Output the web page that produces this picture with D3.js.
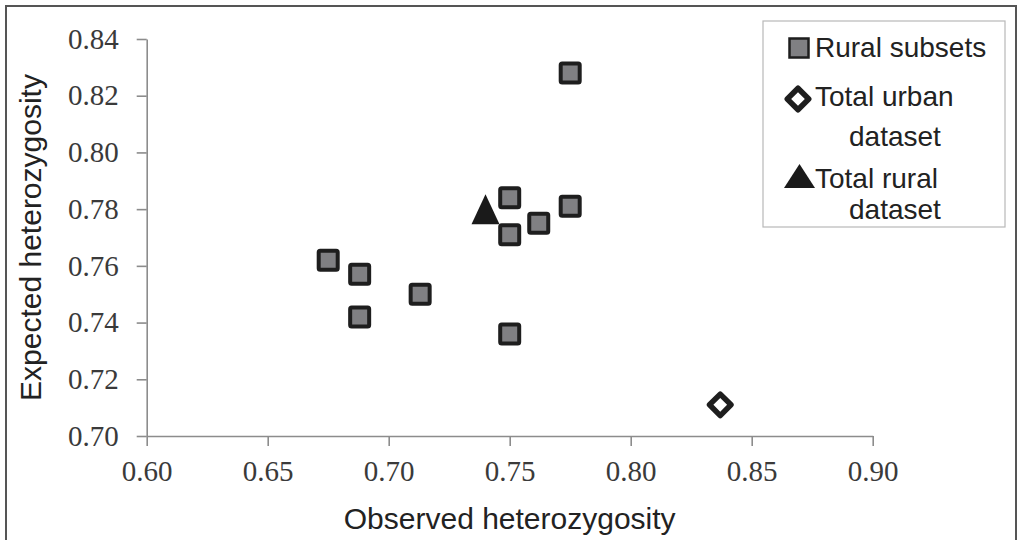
<!DOCTYPE html>
<html>
<head>
<meta charset="utf-8">
<script src="https://cdn.jsdelivr.net/npm/d3@7"></script>
<style>
  body { margin: 0; background: #fff; }
  .axis path, .axis line { stroke: #8c8c8c; stroke-width: 1.6; }
  .axis text { font-family: "Liberation Serif", "Times New Roman", serif; font-size: 29px; fill: #3a3a3a; }
  .title { font-family: "Liberation Sans", Arial, sans-serif; font-size: 30px; fill: #222; }
  .leg { font-family: "Liberation Sans", Arial, sans-serif; font-size: 28px; fill: #222; }
</style>
</head>
<body>
<script>
var ruralObs = [0.775, 0.675, 0.688, 0.713, 0.688, 0.750, 0.750, 0.762, 0.775, 0.750];
var ruralExp = [0.828, 0.762, 0.757, 0.750, 0.742, 0.784, 0.771, 0.775, 0.781, 0.736];
var urbanTotal = {obs: 0.837, exp: 0.711};
var ruralTotal = {obs: 0.740, exp: 0.780};
var xTicks = [0.60, 0.65, 0.70, 0.75, 0.80, 0.85, 0.90];
var yTicks = [0.70, 0.72, 0.74, 0.76, 0.78, 0.80, 0.82, 0.84];
var legendLabels = [["Rural subsets"], ["Total urban", "dataset"], ["Total rural", "dataset"]];

var w = 1019;
var h = 540;

var svg = d3.select("body").append("svg")
    .attr("width", w)
    .attr("height", h);

// outer frame
svg.append("rect")
    .attr("x", 6).attr("y", 6)
    .attr("width", 1010).attr("height", 560)
    .attr("fill", "none")
    .attr("stroke", "#555")
    .attr("stroke-width", 2);

var x = d3.scaleLinear()
    .domain([0.60, 0.90])
    .range([146.7, 872.7]);

var y = d3.scaleLinear()
    .domain([0.70, 0.84])
    .range([436, 39]);

var xAxis = d3.axisBottom(x).tickValues(xTicks).tickFormat(d3.format(".2f"))
    .tickSize(10).tickSizeOuter(0).tickPadding(14);
var yAxis = d3.axisLeft(y).tickValues(yTicks).tickFormat(d3.format(".2f"))
    .tickSize(10).tickSizeOuter(0).tickPadding(18);

svg.append("g")
    .attr("class", "axis")
    .attr("transform", "translate(0," + y(0.70) + ")")
    .call(xAxis);

svg.append("g")
    .attr("class", "axis")
    .attr("transform", "translate(" + x(0.60) + ",0)")
    .call(yAxis);

svg.append("text")
    .attr("class", "title")
    .attr("x", (x(0.60) + x(0.90)) / 2)
    .attr("y", 529)
    .attr("text-anchor", "middle")
    .text("Observed heterozygosity");

svg.append("text")
    .attr("class", "title")
    .attr("transform", "translate(41," + (y(0.70) + y(0.84)) / 2 + ") rotate(-90)")
    .attr("text-anchor", "middle")
    .text("Expected heterozygosity");

var squareOn = "#1e1e1e";
var squareFill = "#808083";

svg.selectAll(".rural")
    .data(ruralObs)
    .enter()
    .append("rect")
    .attr("class", "rural")
    .attr("x", function(d) { return x(d) - 9.5; })
    .attr("y", function(d, i) { return y(ruralExp[i]) - 9.5; })
    .attr("width", 19)
    .attr("height", 19)
    .attr("rx", 1.5)
    .attr("fill", squareFill)
    .attr("stroke", squareOn)
    .attr("stroke-width", 4);

var diamond = d3.symbol().type(d3.symbolSquare).size(230);

svg.append("path")
    .attr("d", diamond)
    .attr("transform", "translate(" + x(urbanTotal.obs) + "," + y(urbanTotal.exp) + ") rotate(45)")
    .attr("fill", "#fff")
    .attr("stroke", squareOn)
    .attr("stroke-width", 5.5)
    .attr("stroke-linejoin", "round");

function tri(hw, hh) {
  return "M0," + (-hh) + "L" + hw + "," + hh + "L" + (-hw) + "," + hh + "Z";
}

svg.append("path")
    .attr("d", tri(14, 15))
    .attr("transform", "translate(" + x(ruralTotal.obs) + "," + y(ruralTotal.exp) + ")")
    .attr("fill", "#1a1a1a");

// legend
var leg = svg.append("g");

leg.append("rect")
    .attr("x", 763).attr("y", 21)
    .attr("width", 242).attr("height", 206)
    .attr("fill", "#fff")
    .attr("stroke", "#b8b8b8")
    .attr("stroke-width", 1.2);

leg.append("rect")
    .attr("x", 789.5).attr("y", 38.5)
    .attr("width", 19).attr("height", 19)
    .attr("fill", squareFill)
    .attr("stroke", squareOn)
    .attr("stroke-width", 2.5);

leg.append("path")
    .attr("d", diamond)
    .attr("transform", "translate(798,99) rotate(45)")
    .attr("fill", "#fff")
    .attr("stroke", squareOn)
    .attr("stroke-width", 5.5)
    .attr("stroke-linejoin", "round");

leg.append("path")
    .attr("d", tri(15.5, 12))
    .attr("transform", "translate(799.5,176)")
    .attr("fill", "#1a1a1a");

var legBase = [[57], [106, 146], [188, 219]];

legendLabels.forEach(function(lines, i) {
  lines.forEach(function(t, j) {
    leg.append("text")
        .attr("class", "leg")
        .attr("x", j == 0 ? 815 : 849)
        .attr("y", legBase[i][j])
        .text(t);
  });
});
</script>
</body>
</html>
